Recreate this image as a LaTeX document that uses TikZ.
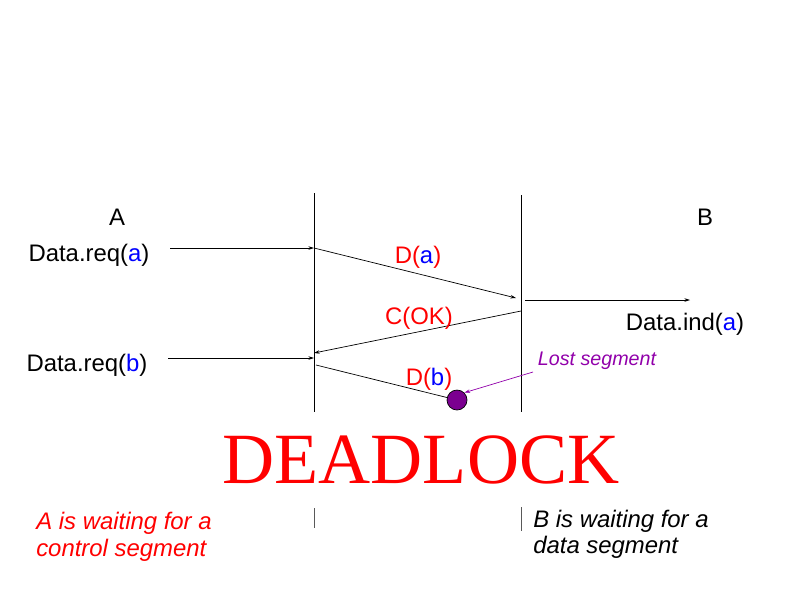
\documentclass[tikz,border=0pt]{standalone}
\usepackage{fontspec}
\setmainfont{Liberation Sans}
\newfontfamily\serifdl{Liberation Serif}
\usepackage{tikz}
\usetikzlibrary{arrows.meta}
\definecolor{lostpurple}{RGB}{145,0,170}
\definecolor{segblue}{RGB}{0,0,255}
\definecolor{segred}{RGB}{255,0,0}

\begin{document}
\begin{tikzpicture}[x=0.025cm,y=-0.025cm,
    lbl/.style={font=\fontsize{17}{20}\selectfont,anchor=base,inner sep=0pt},
    msg/.style={-{Stealth[length=4pt,width=2.5pt]},line width=0.5pt},
    note/.style={font=\fontsize{17}{19.5}\selectfont\itshape,anchor=base west,inner sep=0pt}]
  \useasboundingbox (0,0) rectangle (793,595);
  % lifelines
  \coordinate (Atop) at (314,193); \coordinate (Abot) at (314,412);
  \coordinate (Btop) at (521,195); \coordinate (Bbot) at (521,412);
  \draw[line width=0.5pt] (Atop) -- (Abot);
  \draw[line width=0.5pt] (Btop) -- (Bbot);
  \draw[line width=0.5pt,gray!70!black] (314,508) coordinate (As) -- (314,528) coordinate (Ae);
  \draw[line width=0.5pt,gray!70!black] (521,507) coordinate (Bs) -- (521,531) coordinate (Be);
  % entities
  \node[lbl] (A) at (117,225) {A};
  \node[lbl] (B) at (705,225) {B};
  \node[lbl] (reqa) at (89,261) {Data.req(\textcolor{segblue}{a})};
  \node[lbl] (reqb) at (87,371) {Data.req(\textcolor{segblue}{b})};
  \node[lbl] (inda) at (685,330) {Data.ind(\textcolor{segblue}{a})};
  % points on the lifelines
  \coordinate (a1) at (170,248); \coordinate (a2) at (314,248);
  \coordinate (b1) at (516,298);
  \coordinate (b2) at (525,300); \coordinate (b3) at (690,300);
  \coordinate (b4) at (521,311); \coordinate (a3) at (314,353);
  \coordinate (a4) at (168,358); \coordinate (a5) at (314,358);
  \coordinate (a6) at (316,365);
  \draw[msg] (a1) -- (a2);
  \draw[msg] (a2) -- (b1);
  \node[lbl,text=segred] (Da) at (418,263) {D(\textcolor{segblue}{a})};
  \draw[msg] (b2) -- (b3);
  \draw[msg] (b4) -- (a3);
  \node[lbl,text=segred] (cok) at (419,324) {C(OK)};
  \draw[msg] (a4) -- (a5);
  % lost segment
  \node[circle,draw,fill=lostpurple!85!black,inner sep=0pt,line width=0.5pt,minimum size=0.5cm] (lost) at (457,400) {};
  \draw[line width=0.5pt] (a6) -- (lost);
  \node[lbl,text=segred] (Db) at (429,385) {D(\textcolor{segblue}{b})};
  \node[lbl,font=\fontsize{14}{16}\selectfont\itshape,text=lostpurple] (losttxt) at (597,365) {Lost segment};
  \coordinate (l1) at (533,372);
  \draw[-{Stealth[length=4pt,width=2.5pt]},lostpurple,line width=0.5pt] (l1) -- (lost.north east);
  % result
  \node[font=\serifdl\fontsize{51.3}{55}\selectfont,text=segred,anchor=base,inner sep=0pt] (dead) at (421,483) {DEADLOCK};
  \node[note,text=segred] (waitA) at (36,529) {A is waiting for a};
  \node[note,text=segred] (waitA2) at (36,556) {control segment};
  \node[note] (waitB) at (533,527) {B is waiting for a};
  \node[note] (waitB2) at (533,553) {data segment};
\end{tikzpicture}
\end{document}
